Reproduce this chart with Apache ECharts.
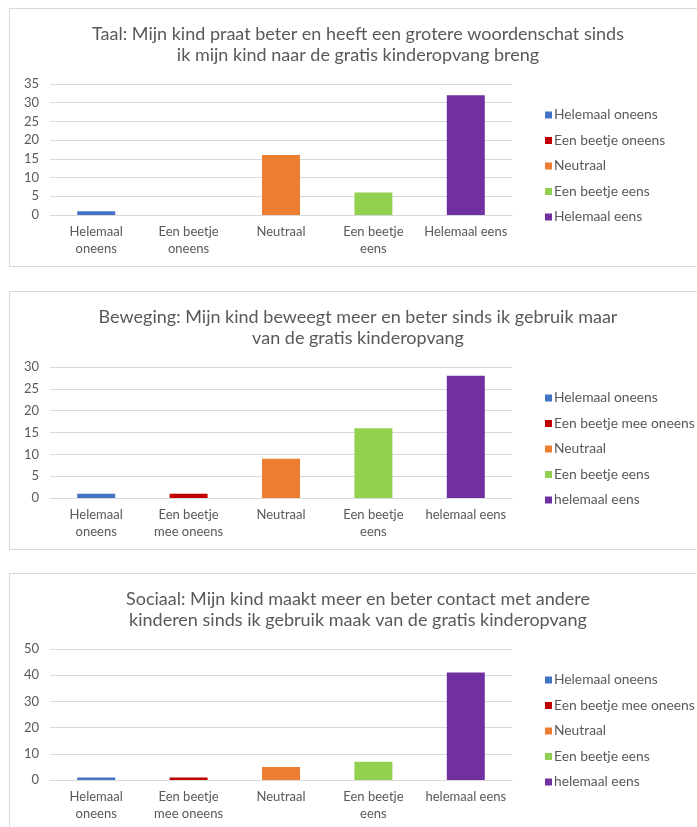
<!DOCTYPE html>
<html>
<head>
<meta charset="utf-8">
<script src="https://cdn.jsdelivr.net/npm/echarts@6/dist/echarts.min.js"></script>
<style>
  html, body { margin: 0; padding: 0; background: #ffffff; overflow: hidden; width: 697px; height: 827px; }
  .panel { position: absolute; left: 9px; width: 698px; border: 1px solid #d9d9d9; box-sizing: border-box; background: #fff; }
</style>
</head>
<body>
<div id="p1" class="panel" style="top:8px;height:259px;"></div>
<div id="p2" class="panel" style="top:291px;height:259px;"></div>
<div id="p3" class="panel" style="top:573px;height:270px;"></div>
<script>
// ---- Data ----
const colors = ['#4472C4', '#C00000', '#ED7D31', '#92D050', '#7030A0'];

const title1 = 'Taal: Mijn kind praat beter en heeft een grotere woordenschat sinds\nik mijn kind naar de gratis kinderopvang breng';
const cats1 = ['Helemaal\noneens', 'Een beetje\noneens', 'Neutraal', 'Een beetje\neens', 'Helemaal eens'];
const legend1 = ['Helemaal oneens', 'Een beetje oneens', 'Neutraal', 'Een beetje eens', 'Helemaal eens'];
const vals1 = [1, 0, 16, 6, 32];
const yMax1 = 35, yStep1 = 5;

const title2 = 'Beweging: Mijn kind beweegt meer en beter sinds ik gebruik maar\nvan de gratis kinderopvang';
const cats2 = ['Helemaal\noneens', 'Een beetje\nmee oneens', 'Neutraal', 'Een beetje\neens', 'helemaal eens'];
const legend2 = ['Helemaal oneens', 'Een beetje mee oneens', 'Neutraal', 'Een beetje eens', 'helemaal eens'];
const vals2 = [1, 1, 9, 16, 28];
const yMax2 = 30, yStep2 = 5;

const title3 = 'Sociaal: Mijn kind maakt meer en beter contact met andere\nkinderen sinds ik gebruik maak van de gratis kinderopvang';
const cats3 = ['Helemaal\noneens', 'Een beetje\nmee oneens', 'Neutraal', 'Een beetje\neens', 'helemaal eens'];
const legend3 = ['Helemaal oneens', 'Een beetje mee oneens', 'Neutraal', 'Een beetje eens', 'helemaal eens'];
const vals3 = [1, 1, 5, 7, 41];
const yMax3 = 50, yStep3 = 10;

// ---- Chart builder ----
const FONT = 'Lato, "Open Sans", sans-serif';
const TXT = '#595959';

function build(el, title, cats, legendNames, vals, yMax, yStep) {
  const chart = echarts.init(document.getElementById(el), null, { renderer: 'canvas' });
  const series = legendNames.map((name, i) => ({
    name: name,
    type: 'bar',
    stack: 'all',
    barWidth: 38,
    itemStyle: { color: colors[i] },
    data: vals.map((v, j) => (j === i ? v : '-')),
    animation: false
  }));
  chart.setOption({
    animation: false,
    title: {
      text: title,
      left: 'center',
      top: 10,
      textStyle: { fontFamily: FONT, fontSize: 18, fontWeight: 'normal', color: TXT, lineHeight: 21 }
    },
    legend: {
      orient: 'vertical',
      left: 530,
      top: 94,
      itemWidth: 7,
      itemHeight: 7,
      itemGap: 11.5,
      icon: 'rect',
      data: legendNames,
      selectedMode: false,
      textStyle: { fontFamily: FONT, fontSize: 13.8, color: TXT, lineHeight: 14, padding: [0, 0, 0, -3] }
    },
    grid: { left: 40, top: 75, width: 462, height: 131, containLabel: false },
    xAxis: {
      type: 'category',
      data: cats,
      axisLine: { show: true, lineStyle: { color: '#d9d9d9', width: 1 } },
      axisTick: { show: false },
      axisLabel: { fontFamily: FONT, fontSize: 13, color: TXT, lineHeight: 17, margin: 8, interval: 0 }
    },
    yAxis: {
      type: 'value',
      min: 0,
      max: yMax,
      interval: yStep,
      axisLine: { show: false },
      axisTick: { show: false },
      splitLine: { lineStyle: { color: '#d9d9d9', width: 1 } },
      axisLabel: { fontFamily: FONT, fontSize: 13, color: TXT, margin: 11 }
    },
    series: series
  });
  return chart;
}

build('p1', title1, cats1, legend1, vals1, yMax1, yStep1);
build('p2', title2, cats2, legend2, vals2, yMax2, yStep2);
build('p3', title3, cats3, legend3, vals3, yMax3, yStep3);
</script>
</body>
</html>
